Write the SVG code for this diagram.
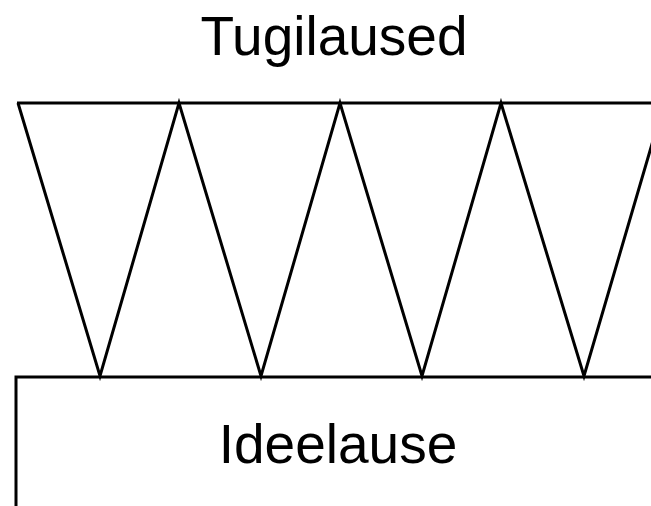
<svg xmlns="http://www.w3.org/2000/svg" width="651" height="506" viewBox="0 0 651 506">
<style>
.ln{fill:none;stroke:#000;stroke-width:3;stroke-linejoin:miter;stroke-linecap:butt}
.t{font-family:"Liberation Sans",Arial,sans-serif;font-size:55px;fill:#000;text-anchor:middle}
</style>
<rect width="651" height="506" fill="#fff"/>
<g id="connectors">
<polyline class="ln" points="18,103 100,376 179,103 261,376 340,103 422,376 501,103 584,376 664,103"/>
</g>
<g id="tugilaused">
<line class="ln" x1="17" y1="103" x2="651" y2="103"/>
<text class="t" x="334" y="55">Tugilaused</text>
</g>
<g id="ideelause">
<polyline class="ln" points="16,506 16,377 651,377"/>
<text class="t" x="338" y="463">Ideelause</text>
</g>
</svg>
